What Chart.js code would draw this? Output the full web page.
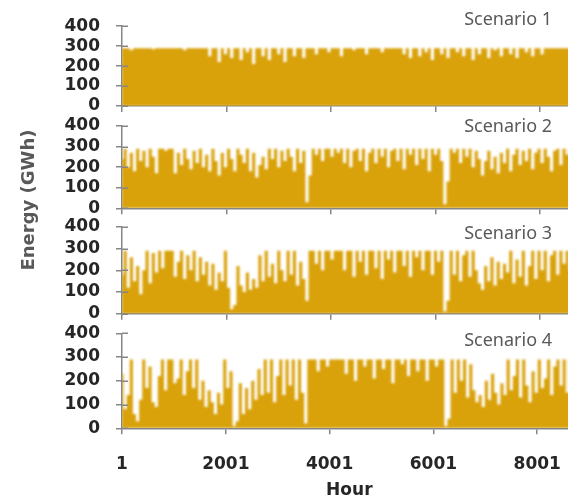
<!DOCTYPE html>
<html><head><meta charset="utf-8">
<script src="https://cdn.jsdelivr.net/npm/chart.js@4/dist/chart.umd.min.js"></script>
<style>
html,body{margin:0;padding:0;background:#fff;overflow:hidden;}
#wrap{position:relative;width:568px;height:502px;overflow:hidden;background:#fff;}
#wrap canvas{position:absolute;left:0;top:0;}
</style></head><body>
<div id="wrap">
<canvas id="c1" width="581" height="502"></canvas>
<canvas id="c2" width="581" height="502"></canvas>
<canvas id="c3" width="581" height="502"></canvas>
<canvas id="c4" width="581" height="502"></canvas>
</div>
<script>
// ---- data (hour of year, energy in GWh) ----
const hours = [1,61,121,181,241,301,361,421,481,541,601,661,721,781,841,901,961,1021,1081,1141,1201,1261,1321,1381,1441,1501,1561,1621,1681,1741,1801,1861,1921,1981,2041,2101,2161,2221,2281,2341,2401,2461,2521,2581,2641,2701,2761,2821,2881,2941,3001,3061,3121,3181,3241,3301,3361,3421,3481,3541,3601,3661,3721,3781,3841,3901,3961,4021,4081,4141,4201,4261,4321,4381,4441,4501,4561,4621,4681,4741,4801,4861,4921,4981,5041,5101,5161,5221,5281,5341,5401,5461,5521,5581,5641,5701,5761,5821,5881,5941,6001,6061,6121,6181,6241,6301,6361,6421,6481,6541,6601,6661,6721,6781,6841,6901,6961,7021,7081,7141,7201,7261,7321,7381,7441,7501,7561,7621,7681,7741,7801,7861,7921,7981,8041,8101,8161,8221,8281,8341,8401,8461,8521,8581,8641,8701,8760];
const scenarios = ['Scenario 1','Scenario 2','Scenario 3','Scenario 4'];
const xTicks = [1,2001,4001,6001,8001];
const yTicks = [0,100,200,300,400];

const scenario1 = [290,290,290,280,290,290,290,290,290,290,285,290,290,290,290,290,290,290,290,290,280,290,290,290,290,290,290,
290,250,290,290,220,290,260,290,240,290,290,230,290,270,290,210,290,290,250,290,230,290,290,260,290,220,290,290,250,290,290,240,290,290,
290,260,290,290,290,270,290,290,290,250,290,290,290,280,290,290,290,260,290,290,290,290,270,290,290,290,290,290,
290,260,290,240,290,290,250,290,270,290,230,290,290,260,290,240,290,290,270,290,250,290,290,230,290,260,290,290,240,290,280,290,250,290,290,260,290,240,290,290,270,290,250,290,290,260,
290,290,290,290,290,290,290,290,290,290,290,290];

const scenario2 = [240,290,200,270,180,290,230,280,200,290,
250,170,290,290,280,290,290,170,270,210,
290,240,190,280,220,290,200,260,180,290,
230,160,270,200,290,240,180,290,260,220,
290,180,270,150,210,250,190,290,240,290,
200,280,230,290,250,180,290,220,280,30,
160,290,260,290,230,290,290,250,290,270,
290,220,290,200,280,290,230,290,180,270,
290,220,290,250,290,200,280,290,230,290,
190,290,260,290,210,290,240,290,180,290,
260,290,230,20,130,290,270,290,220,290,
250,290,200,280,240,160,230,280,190,250,
170,270,220,290,180,260,290,210,280,230,
290,190,270,290,220,290,250,180,280,290,
210,290,260,290,230,290,270];

const scenario3 = [180,290,120,260,150,220,90,200,290,140,
280,190,290,210,290,290,290,170,240,290,
160,270,200,290,150,260,180,240,130,230,
110,190,150,290,120,20,40,220,130,100,
190,110,160,120,270,150,290,170,230,140,
290,200,150,290,180,290,130,240,160,60,
290,290,230,290,200,290,290,250,290,290,
290,200,290,290,170,290,240,290,180,290,
290,210,290,160,290,250,290,190,290,290,
220,290,170,290,260,290,200,290,290,180,
290,240,290,10,60,290,180,290,150,270,
290,170,290,200,140,110,220,150,260,130,
240,160,230,190,290,140,250,170,290,130,
220,290,160,290,200,290,150,270,290,180,
290,230,290,200,290,170,260];

const scenario4 = [230,80,140,290,60,30,120,290,170,260,
110,90,220,290,160,290,290,190,210,290,
140,240,290,170,290,120,200,90,160,110,
60,150,100,290,170,240,10,30,190,60,
170,80,200,120,250,140,290,150,290,110,
220,290,140,290,180,290,120,290,150,20,
290,290,290,240,290,290,260,290,290,290,
290,290,230,290,290,200,290,290,260,290,
290,210,290,290,250,290,290,190,290,290,
270,290,220,290,290,240,290,290,200,290,
290,260,290,290,10,40,290,150,290,200,
290,130,270,160,110,140,90,200,120,230,
150,100,190,140,290,160,220,290,130,290,
180,110,240,150,290,170,210,290,140,260,
290,180,290,150,290,220,270];

const series = [scenario1, scenario2, scenario3, scenario4];

// ---- layout / style ----
const GOLD = '#D9A20B';
const AXIS = '#868686';
const TICKC = '#262626';
const TITLEC = '#595959';
const W = 581, H = 502, PLOT_RIGHT = 579.7, PLOT_LEFT = 122;
const layout = [
  {top:22,    bottom:106,   labelY:24.5},
  {top:126,   bottom:208.3, labelY:132},
  {top:227,   bottom:313.7, labelY:238.5},
  {top:333.3, bottom:428.3, labelY:345.5}
];
const tickFont = {family:'DejaVu Sans', weight:'bold', size:17};

const softFill = {
  id:'softFill',
  beforeDatasetsDraw(chart){ chart.ctx.save(); chart.ctx.filter = 'blur(0.9px)'; },
  afterDatasetsDraw(chart){ chart.ctx.restore(); }
};

function decorPlugin(i){
  return {
    id:'decor'+i,
    afterDraw(chart){
      const ctx = chart.ctx, ys = chart.scales.y, ca = chart.chartArea;
      ctx.save();
      ctx.strokeStyle = AXIS; ctx.lineWidth = 1.5;
      ys.ticks.forEach(t=>{
        const y = Math.round(ys.getPixelForValue(t.value))+0.25;
        ctx.beginPath(); ctx.moveTo(ca.left, y); ctx.lineTo(ca.left+6, y); ctx.stroke();
      });
      ctx.fillStyle = TITLEC;
      ctx.font = '18px "Noto Sans"';
      ctx.textAlign = 'right'; ctx.textBaseline = 'alphabetic';
      ctx.fillText(scenarios[i], 552, layout[i].labelY);
      if (i === 3) {
        ctx.translate(29, 200);
        ctx.rotate(-Math.PI/2);
        ctx.textAlign = 'center'; ctx.textBaseline = 'middle';
        ctx.font = 'bold 18px "DejaVu Sans"';
        ctx.fillStyle = TITLEC;
        ctx.fillText('Energy (GWh)', 0, 0);
      }
      ctx.restore();
    }
  };
}

series.forEach((vals, i) => {
  const L = layout[i];
  const last = i === 3;
  new Chart(document.getElementById('c'+(i+1)), {
    type:'line',
    data:{datasets:[{
      label:scenarios[i],
      data:hours.map((h,k)=>({x:h, y:vals[k]})),
      fill:'origin', stepped:'middle',
      backgroundColor:GOLD, borderColor:'rgba(0,0,0,0)', borderWidth:0,
      pointRadius:0, pointHoverRadius:0
    }]},
    options:{
      responsive:false, animation:false, devicePixelRatio:1, events:[],
      layout:{padding:{top:L.top, bottom:0, left:0, right:W-PLOT_RIGHT}},
      plugins:{legend:{display:false}, tooltip:{enabled:false}, title:{display:false}},
      scales:{
        x:{
          type:'linear', min:1, max:8760, z:1,
          afterBuildTicks:s=>{ s.ticks = xTicks.map(v=>({value:v})); },
          afterFit:s=>{ s.height = H - L.bottom; },
          border:{display:true, color:AXIS, width:1.5},
          grid:{drawOnChartArea:false, drawTicks:true, tickLength:6, color:AXIS, lineWidth:1.5},
          ticks:{display:last, autoSkip:false, maxRotation:0, minRotation:0, padding:20,
                 color:TICKC, font:tickFont, callback:v=>String(v)},
          title:{display:last, text:'Hour', color:TICKC, font:{family:'DejaVu Sans', weight:'bold', size:17},
                 padding:{top:0, bottom:1}}
        },
        y:{
          min:0, max:400, z:1,
          afterBuildTicks:s=>{ s.ticks = yTicks.map(v=>({value:v})); },
          afterFit:s=>{ s.width = PLOT_LEFT; },
          border:{display:true, color:AXIS, width:1.5},
          grid:{drawOnChartArea:false, drawTicks:true, tickLength:6, color:AXIS, lineWidth:1.5},
          ticks:{autoSkip:false, padding:16, color:TICKC, font:tickFont, callback:v=>String(v)}
        }
      }
    },
    plugins:[softFill, decorPlugin(i)]
  });
});
</script>
</body></html>
